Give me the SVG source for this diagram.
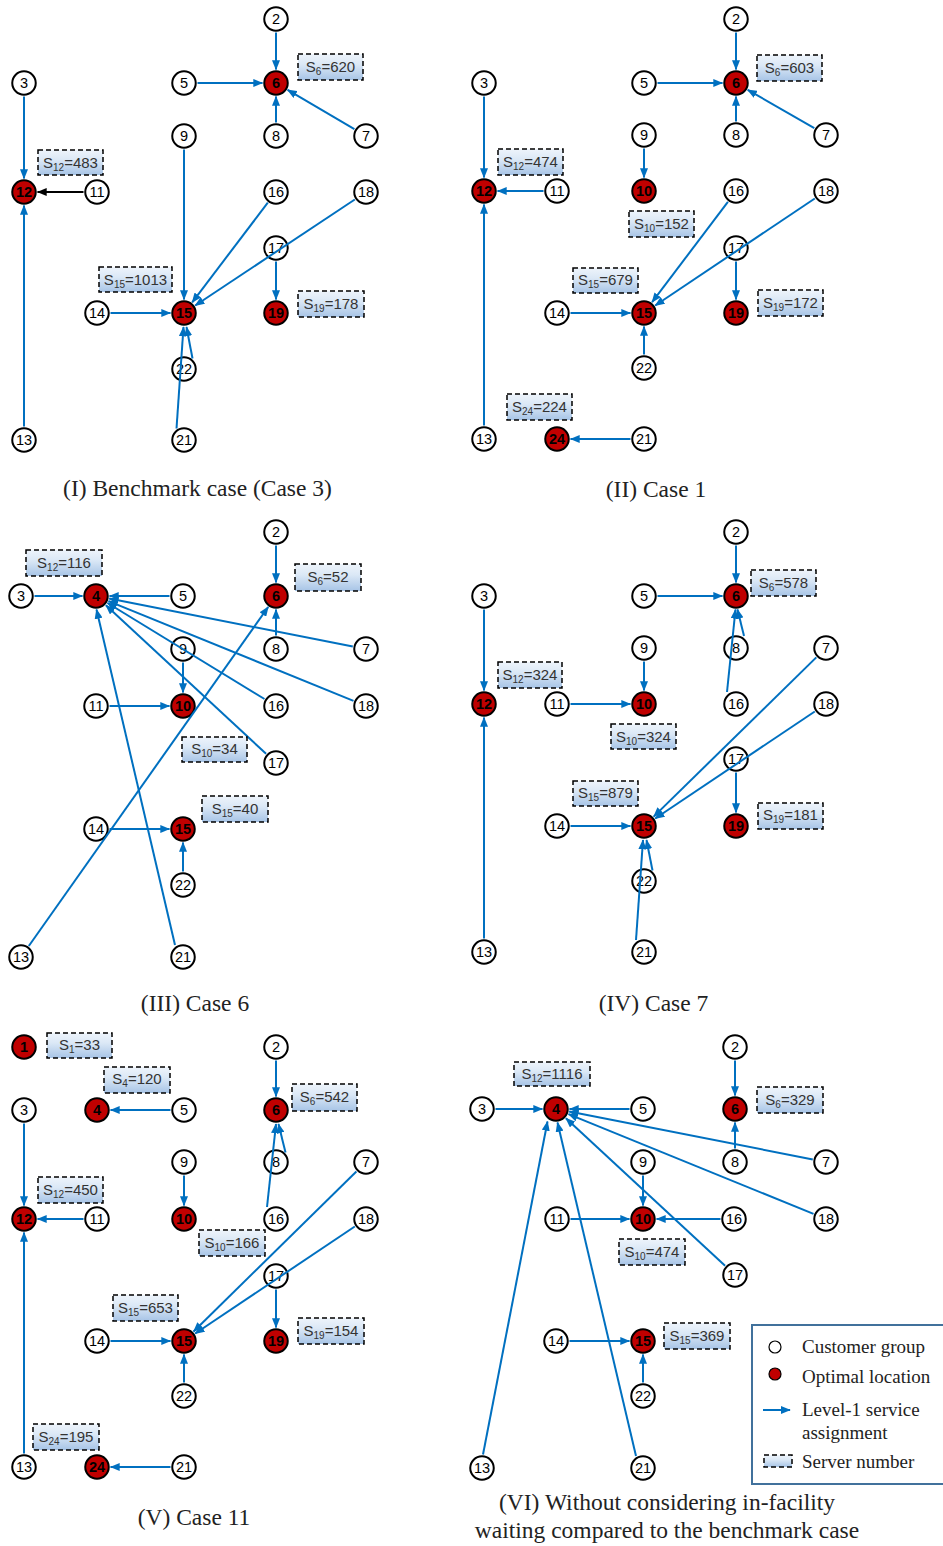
<svg xmlns="http://www.w3.org/2000/svg" width="943" height="1546" viewBox="0 0 943 1546">
<style>
.c{fill:#fff;stroke:#000;stroke-width:2}
.r{fill:#c00000;stroke:#000;stroke-width:2}
.t{font-family:"Liberation Sans",Arial,sans-serif;font-size:14.5px;text-anchor:middle;fill:#000}
.b{font-weight:bold}
.sb rect{fill:url(#g);stroke:#000;stroke-width:1.5;stroke-dasharray:5 3}
.st{font-family:"Liberation Sans",Arial,sans-serif;font-size:15px;text-anchor:middle;fill:#333}
.sub{font-size:10px}
.e line{stroke:#0070c0;stroke-width:2;marker-end:url(#ah)}
.e line.k{stroke:#000;marker-end:url(#ahk)}
.cap{font-family:"Liberation Serif","Times New Roman",serif;font-size:23.5px;text-anchor:middle;fill:#222}
.lg{font-family:"Liberation Serif","Times New Roman",serif;font-size:19px;fill:#222}
</style>
<defs>
<linearGradient id="g" x1="0" y1="0" x2="0" y2="1">
<stop offset="0" stop-color="#eef4fb"/>
<stop offset="0.4" stop-color="#dbe8f6"/>
<stop offset="1" stop-color="#a7c4e6"/>
</linearGradient>
<marker id="ah" viewBox="0 0 10 8" refX="9.2" refY="4" markerWidth="10" markerHeight="8" markerUnits="userSpaceOnUse" orient="auto">
<path d="M0,0 L10,4 L0,8 z" fill="#0070c0"/>
</marker>
<marker id="ahk" viewBox="0 0 10 8" refX="9.2" refY="4" markerWidth="10" markerHeight="8" markerUnits="userSpaceOnUse" orient="auto">
<path d="M0,0 L10,4 L0,8 z" fill="#000"/>
</marker>
</defs>
<rect width="943" height="1546" fill="#fff"/>

<!-- Panel I nodes -->
<g id="p1-n2"><circle class="c" cx="276" cy="19" r="11.75"/><text class="t" x="276" y="24">2</text></g>
<g id="p1-n6"><circle class="r" cx="276" cy="83" r="11.75"/><text class="t b" x="276" y="88">6</text></g>
<g id="p1-n5"><circle class="c" cx="184" cy="83" r="11.75"/><text class="t" x="184" y="88">5</text></g>
<g id="p1-n3"><circle class="c" cx="24" cy="83" r="11.75"/><text class="t" x="24" y="88">3</text></g>
<g id="p1-n8"><circle class="c" cx="276" cy="136" r="11.75"/><text class="t" x="276" y="141">8</text></g>
<g id="p1-n7"><circle class="c" cx="366" cy="136" r="11.75"/><text class="t" x="366" y="141">7</text></g>
<g id="p1-n9"><circle class="c" cx="184" cy="136" r="11.75"/><text class="t" x="184" y="141">9</text></g>
<g id="p1-n12"><circle class="r" cx="24" cy="192" r="11.75"/><text class="t b" x="24" y="197">12</text></g>
<g id="p1-n11"><circle class="c" cx="97" cy="192" r="11.75"/><text class="t" x="97" y="197">11</text></g>
<g id="p1-n16"><circle class="c" cx="276" cy="192" r="11.75"/><text class="t" x="276" y="197">16</text></g>
<g id="p1-n18"><circle class="c" cx="366" cy="192" r="11.75"/><text class="t" x="366" y="197">18</text></g>
<g id="p1-n17"><circle class="c" cx="276" cy="248" r="11.75"/><text class="t" x="276" y="253">17</text></g>
<g id="p1-n14"><circle class="c" cx="97" cy="313" r="11.75"/><text class="t" x="97" y="318">14</text></g>
<g id="p1-n15"><circle class="r" cx="184" cy="313" r="11.75"/><text class="t b" x="184" y="318">15</text></g>
<g id="p1-n19"><circle class="r" cx="276" cy="313" r="11.75"/><text class="t b" x="276" y="318">19</text></g>
<g id="p1-n22"><circle class="c" cx="184" cy="369" r="11.75"/><text class="t" x="184" y="374">22</text></g>
<g id="p1-n13"><circle class="c" cx="24" cy="440" r="11.75"/><text class="t" x="24" y="445">13</text></g>
<g id="p1-n21"><circle class="c" cx="184" cy="440" r="11.75"/><text class="t" x="184" y="445">21</text></g>

<!-- Panel II nodes -->
<g id="p2-n2"><circle class="c" cx="736" cy="19" r="11.75"/><text class="t" x="736" y="24">2</text></g>
<g id="p2-n6"><circle class="r" cx="736" cy="83" r="11.75"/><text class="t b" x="736" y="88">6</text></g>
<g id="p2-n5"><circle class="c" cx="644" cy="83" r="11.75"/><text class="t" x="644" y="88">5</text></g>
<g id="p2-n3"><circle class="c" cx="484" cy="83" r="11.75"/><text class="t" x="484" y="88">3</text></g>
<g id="p2-n9"><circle class="c" cx="644" cy="135" r="11.75"/><text class="t" x="644" y="140">9</text></g>
<g id="p2-n8"><circle class="c" cx="736" cy="135" r="11.75"/><text class="t" x="736" y="140">8</text></g>
<g id="p2-n7"><circle class="c" cx="826" cy="135" r="11.75"/><text class="t" x="826" y="140">7</text></g>
<g id="p2-n12"><circle class="r" cx="484" cy="191" r="11.75"/><text class="t b" x="484" y="196">12</text></g>
<g id="p2-n11"><circle class="c" cx="557" cy="191" r="11.75"/><text class="t" x="557" y="196">11</text></g>
<g id="p2-n10"><circle class="r" cx="644" cy="191" r="11.75"/><text class="t b" x="644" y="196">10</text></g>
<g id="p2-n16"><circle class="c" cx="736" cy="191" r="11.75"/><text class="t" x="736" y="196">16</text></g>
<g id="p2-n18"><circle class="c" cx="826" cy="191" r="11.75"/><text class="t" x="826" y="196">18</text></g>
<g id="p2-n17"><circle class="c" cx="736" cy="248" r="11.75"/><text class="t" x="736" y="253">17</text></g>
<g id="p2-n14"><circle class="c" cx="557" cy="313" r="11.75"/><text class="t" x="557" y="318">14</text></g>
<g id="p2-n15"><circle class="r" cx="644" cy="313" r="11.75"/><text class="t b" x="644" y="318">15</text></g>
<g id="p2-n19"><circle class="r" cx="736" cy="313" r="11.75"/><text class="t b" x="736" y="318">19</text></g>
<g id="p2-n22"><circle class="c" cx="644" cy="368" r="11.75"/><text class="t" x="644" y="373">22</text></g>
<g id="p2-n13"><circle class="c" cx="484" cy="439" r="11.75"/><text class="t" x="484" y="444">13</text></g>
<g id="p2-n24"><circle class="r" cx="557" cy="439" r="11.75"/><text class="t b" x="557" y="444">24</text></g>
<g id="p2-n21"><circle class="c" cx="644" cy="439" r="11.75"/><text class="t" x="644" y="444">21</text></g>

<!-- Panel III nodes -->
<g id="p3-n2"><circle class="c" cx="276" cy="532" r="11.75"/><text class="t" x="276" y="537">2</text></g>
<g id="p3-n6"><circle class="r" cx="276" cy="596" r="11.75"/><text class="t b" x="276" y="601">6</text></g>
<g id="p3-n4"><circle class="r" cx="96" cy="596" r="11.75"/><text class="t b" x="96" y="601">4</text></g>
<g id="p3-n3"><circle class="c" cx="21" cy="596" r="11.75"/><text class="t" x="21" y="601">3</text></g>
<g id="p3-n5"><circle class="c" cx="183" cy="596" r="11.75"/><text class="t" x="183" y="601">5</text></g>
<g id="p3-n8"><circle class="c" cx="276" cy="649" r="11.75"/><text class="t" x="276" y="654">8</text></g>
<g id="p3-n7"><circle class="c" cx="366" cy="649" r="11.75"/><text class="t" x="366" y="654">7</text></g>
<g id="p3-n9"><circle class="c" cx="183" cy="649" r="11.75"/><text class="t" x="183" y="654">9</text></g>
<g id="p3-n10"><circle class="r" cx="183" cy="706" r="11.75"/><text class="t b" x="183" y="711">10</text></g>
<g id="p3-n11"><circle class="c" cx="96" cy="706" r="11.75"/><text class="t" x="96" y="711">11</text></g>
<g id="p3-n16"><circle class="c" cx="276" cy="706" r="11.75"/><text class="t" x="276" y="711">16</text></g>
<g id="p3-n18"><circle class="c" cx="366" cy="706" r="11.75"/><text class="t" x="366" y="711">18</text></g>
<g id="p3-n17"><circle class="c" cx="276" cy="763" r="11.75"/><text class="t" x="276" y="768">17</text></g>
<g id="p3-n14"><circle class="c" cx="96" cy="829" r="11.75"/><text class="t" x="96" y="834">14</text></g>
<g id="p3-n15"><circle class="r" cx="183" cy="829" r="11.75"/><text class="t b" x="183" y="834">15</text></g>
<g id="p3-n22"><circle class="c" cx="183" cy="885" r="11.75"/><text class="t" x="183" y="890">22</text></g>
<g id="p3-n13"><circle class="c" cx="21" cy="957" r="11.75"/><text class="t" x="21" y="962">13</text></g>
<g id="p3-n21"><circle class="c" cx="183" cy="957" r="11.75"/><text class="t" x="183" y="962">21</text></g>

<!-- Panel IV nodes -->
<g id="p4-n2"><circle class="c" cx="736" cy="532" r="11.75"/><text class="t" x="736" y="537">2</text></g>
<g id="p4-n6"><circle class="r" cx="736" cy="596" r="11.75"/><text class="t b" x="736" y="601">6</text></g>
<g id="p4-n5"><circle class="c" cx="644" cy="596" r="11.75"/><text class="t" x="644" y="601">5</text></g>
<g id="p4-n3"><circle class="c" cx="484" cy="596" r="11.75"/><text class="t" x="484" y="601">3</text></g>
<g id="p4-n9"><circle class="c" cx="644" cy="648" r="11.75"/><text class="t" x="644" y="653">9</text></g>
<g id="p4-n8"><circle class="c" cx="736" cy="648" r="11.75"/><text class="t" x="736" y="653">8</text></g>
<g id="p4-n7"><circle class="c" cx="826" cy="648" r="11.75"/><text class="t" x="826" y="653">7</text></g>
<g id="p4-n12"><circle class="r" cx="484" cy="704" r="11.75"/><text class="t b" x="484" y="709">12</text></g>
<g id="p4-n11"><circle class="c" cx="557" cy="704" r="11.75"/><text class="t" x="557" y="709">11</text></g>
<g id="p4-n10"><circle class="r" cx="644" cy="704" r="11.75"/><text class="t b" x="644" y="709">10</text></g>
<g id="p4-n16"><circle class="c" cx="736" cy="704" r="11.75"/><text class="t" x="736" y="709">16</text></g>
<g id="p4-n18"><circle class="c" cx="826" cy="704" r="11.75"/><text class="t" x="826" y="709">18</text></g>
<g id="p4-n17"><circle class="c" cx="736" cy="759" r="11.75"/><text class="t" x="736" y="764">17</text></g>
<g id="p4-n14"><circle class="c" cx="557" cy="826" r="11.75"/><text class="t" x="557" y="831">14</text></g>
<g id="p4-n15"><circle class="r" cx="644" cy="826" r="11.75"/><text class="t b" x="644" y="831">15</text></g>
<g id="p4-n19"><circle class="r" cx="736" cy="826" r="11.75"/><text class="t b" x="736" y="831">19</text></g>
<g id="p4-n22"><circle class="c" cx="644" cy="881" r="11.75"/><text class="t" x="644" y="886">22</text></g>
<g id="p4-n13"><circle class="c" cx="484" cy="952" r="11.75"/><text class="t" x="484" y="957">13</text></g>
<g id="p4-n21"><circle class="c" cx="644" cy="952" r="11.75"/><text class="t" x="644" y="957">21</text></g>

<!-- Panel V nodes -->
<g id="p5-n1"><circle class="r" cx="24" cy="1047" r="11.75"/><text class="t b" x="24" y="1052">1</text></g>
<g id="p5-n2"><circle class="c" cx="276" cy="1047" r="11.75"/><text class="t" x="276" y="1052">2</text></g>
<g id="p5-n3"><circle class="c" cx="24" cy="1110" r="11.75"/><text class="t" x="24" y="1115">3</text></g>
<g id="p5-n4"><circle class="r" cx="97" cy="1110" r="11.75"/><text class="t b" x="97" y="1115">4</text></g>
<g id="p5-n5"><circle class="c" cx="184" cy="1110" r="11.75"/><text class="t" x="184" y="1115">5</text></g>
<g id="p5-n6"><circle class="r" cx="276" cy="1110" r="11.75"/><text class="t b" x="276" y="1115">6</text></g>
<g id="p5-n9"><circle class="c" cx="184" cy="1162" r="11.75"/><text class="t" x="184" y="1167">9</text></g>
<g id="p5-n8"><circle class="c" cx="276" cy="1162" r="11.75"/><text class="t" x="276" y="1167">8</text></g>
<g id="p5-n7"><circle class="c" cx="366" cy="1162" r="11.75"/><text class="t" x="366" y="1167">7</text></g>
<g id="p5-n12"><circle class="r" cx="24" cy="1219" r="11.75"/><text class="t b" x="24" y="1224">12</text></g>
<g id="p5-n11"><circle class="c" cx="97" cy="1219" r="11.75"/><text class="t" x="97" y="1224">11</text></g>
<g id="p5-n10"><circle class="r" cx="184" cy="1219" r="11.75"/><text class="t b" x="184" y="1224">10</text></g>
<g id="p5-n16"><circle class="c" cx="276" cy="1219" r="11.75"/><text class="t" x="276" y="1224">16</text></g>
<g id="p5-n18"><circle class="c" cx="366" cy="1219" r="11.75"/><text class="t" x="366" y="1224">18</text></g>
<g id="p5-n17"><circle class="c" cx="276" cy="1276" r="11.75"/><text class="t" x="276" y="1281">17</text></g>
<g id="p5-n14"><circle class="c" cx="97" cy="1341" r="11.75"/><text class="t" x="97" y="1346">14</text></g>
<g id="p5-n15"><circle class="r" cx="184" cy="1341" r="11.75"/><text class="t b" x="184" y="1346">15</text></g>
<g id="p5-n19"><circle class="r" cx="276" cy="1341" r="11.75"/><text class="t b" x="276" y="1346">19</text></g>
<g id="p5-n22"><circle class="c" cx="184" cy="1396" r="11.75"/><text class="t" x="184" y="1401">22</text></g>
<g id="p5-n13"><circle class="c" cx="24" cy="1467" r="11.75"/><text class="t" x="24" y="1472">13</text></g>
<g id="p5-n24"><circle class="r" cx="97" cy="1467" r="11.75"/><text class="t b" x="97" y="1472">24</text></g>
<g id="p5-n21"><circle class="c" cx="184" cy="1467" r="11.75"/><text class="t" x="184" y="1472">21</text></g>

<!-- Panel VI nodes -->
<g id="p6-n2"><circle class="c" cx="735" cy="1047" r="11.75"/><text class="t" x="735" y="1052">2</text></g>
<g id="p6-n6"><circle class="r" cx="735" cy="1109" r="11.75"/><text class="t b" x="735" y="1114">6</text></g>
<g id="p6-n4"><circle class="r" cx="556" cy="1109" r="11.75"/><text class="t b" x="556" y="1114">4</text></g>
<g id="p6-n3"><circle class="c" cx="482" cy="1109" r="11.75"/><text class="t" x="482" y="1114">3</text></g>
<g id="p6-n5"><circle class="c" cx="643" cy="1109" r="11.75"/><text class="t" x="643" y="1114">5</text></g>
<g id="p6-n9"><circle class="c" cx="643" cy="1162" r="11.75"/><text class="t" x="643" y="1167">9</text></g>
<g id="p6-n8"><circle class="c" cx="735" cy="1162" r="11.75"/><text class="t" x="735" y="1167">8</text></g>
<g id="p6-n7"><circle class="c" cx="826" cy="1162" r="11.75"/><text class="t" x="826" y="1167">7</text></g>
<g id="p6-n11"><circle class="c" cx="557" cy="1219" r="11.75"/><text class="t" x="557" y="1224">11</text></g>
<g id="p6-n10"><circle class="r" cx="643" cy="1219" r="11.75"/><text class="t b" x="643" y="1224">10</text></g>
<g id="p6-n16"><circle class="c" cx="734" cy="1219" r="11.75"/><text class="t" x="734" y="1224">16</text></g>
<g id="p6-n18"><circle class="c" cx="826" cy="1219" r="11.75"/><text class="t" x="826" y="1224">18</text></g>
<g id="p6-n17"><circle class="c" cx="735" cy="1275" r="11.75"/><text class="t" x="735" y="1280">17</text></g>
<g id="p6-n14"><circle class="c" cx="556" cy="1341" r="11.75"/><text class="t" x="556" y="1346">14</text></g>
<g id="p6-n15"><circle class="r" cx="643" cy="1341" r="11.75"/><text class="t b" x="643" y="1346">15</text></g>
<g id="p6-n22"><circle class="c" cx="643" cy="1396" r="11.75"/><text class="t" x="643" y="1401">22</text></g>
<g id="p6-n13"><circle class="c" cx="482" cy="1468" r="11.75"/><text class="t" x="482" y="1473">13</text></g>
<g id="p6-n21"><circle class="c" cx="643" cy="1468" r="11.75"/><text class="t" x="643" y="1473">21</text></g>

<!-- Connectors -->
<g id="connectors" class="e">
<!-- I -->
<line x1="276" y1="32.5" x2="276" y2="69.5"/>
<line x1="197.5" y1="83" x2="262.5" y2="83"/>
<line x1="276" y1="122.5" x2="276" y2="96.5"/>
<line x1="354.4" y1="129.2" x2="287.6" y2="89.9"/>
<line x1="24" y1="96.5" x2="24" y2="178.5"/>
<line class="k" x1="83.5" y1="192" x2="37.5" y2="192"/>
<line x1="24" y1="426.5" x2="24" y2="205.5"/>
<line x1="184" y1="149.5" x2="184" y2="299.5"/>
<line x1="267.8" y1="202.7" x2="192.2" y2="302.3"/>
<line x1="354.8" y1="199.5" x2="195.2" y2="305.5"/>
<line x1="276" y1="261.5" x2="276" y2="299.5"/>
<line x1="110.5" y1="313" x2="170.5" y2="313"/>
<line x1="192.5" y1="358.5" x2="186.5" y2="327"/>
<line x1="176.5" y1="428.5" x2="183.5" y2="327"/>
<!-- II -->
<line x1="736" y1="32.5" x2="736" y2="69.5"/>
<line x1="657.5" y1="83" x2="722.5" y2="83"/>
<line x1="736" y1="121.5" x2="736" y2="96.5"/>
<line x1="814.3" y1="128.2" x2="747.7" y2="89.8"/>
<line x1="484" y1="96.5" x2="484" y2="177.5"/>
<line x1="543.5" y1="191" x2="497.5" y2="191"/>
<line x1="484" y1="425.5" x2="484" y2="204.5"/>
<line x1="644" y1="148.5" x2="644" y2="177.5"/>
<line x1="727.9" y1="201.8" x2="652.1" y2="302.2"/>
<line x1="814.8" y1="198.5" x2="655.2" y2="305.5"/>
<line x1="736" y1="261.5" x2="736" y2="299.5"/>
<line x1="570.5" y1="313" x2="630.5" y2="313"/>
<line x1="644" y1="354.5" x2="644" y2="326.5"/>
<line x1="630.5" y1="439" x2="570.5" y2="439"/>
<!-- III -->
<line x1="34.5" y1="596" x2="82.5" y2="596"/>
<line x1="169.5" y1="596" x2="109.5" y2="596"/>
<line x1="352.8" y1="646.4" x2="109.2" y2="598.6"/>
<line x1="353.5" y1="700.9" x2="108.5" y2="601.1"/>
<line x1="264.5" y1="699" x2="107.5" y2="603"/>
<line x1="266.1" y1="753.8" x2="105.9" y2="605.2"/>
<line x1="175" y1="945" x2="96.5" y2="609.5"/>
<line x1="276" y1="545.5" x2="276" y2="582.5"/>
<line x1="276" y1="635.5" x2="276" y2="609.5"/>
<line x1="28.8" y1="946" x2="268.2" y2="607"/>
<line x1="183" y1="662.5" x2="183" y2="692.5"/>
<line x1="109.5" y1="706" x2="169.5" y2="706"/>
<line x1="109.5" y1="829" x2="169.5" y2="829"/>
<line x1="183" y1="871.5" x2="183" y2="842.5"/>
<!-- IV -->
<line x1="736" y1="545.5" x2="736" y2="582.5"/>
<line x1="657.5" y1="596" x2="722.5" y2="596"/>
<line x1="744" y1="636" x2="737.5" y2="609.5"/>
<line x1="727" y1="692" x2="735.5" y2="609.5"/>
<line x1="484" y1="609.5" x2="484" y2="690.5"/>
<line x1="484" y1="938.5" x2="484" y2="717.5"/>
<line x1="644" y1="661.5" x2="644" y2="690.5"/>
<line x1="570.5" y1="704" x2="630.5" y2="704"/>
<line x1="816.3" y1="657.4" x2="653.7" y2="816.6"/>
<line x1="814.8" y1="711.5" x2="655.2" y2="818.5"/>
<line x1="736" y1="772.5" x2="736" y2="812.5"/>
<line x1="570.5" y1="826" x2="630.5" y2="826"/>
<line x1="652.5" y1="870.5" x2="646.5" y2="840"/>
<line x1="636" y1="940" x2="643" y2="840"/>
<!-- V -->
<line x1="170.5" y1="1110" x2="110.5" y2="1110"/>
<line x1="276" y1="1060.5" x2="276" y2="1096.5"/>
<line x1="285.5" y1="1152.5" x2="278.5" y2="1124"/>
<line x1="267" y1="1207" x2="276" y2="1124"/>
<line x1="184" y1="1175.5" x2="184" y2="1205.5"/>
<line x1="24" y1="1123.5" x2="24" y2="1205.5"/>
<line x1="83.5" y1="1219" x2="37.5" y2="1219"/>
<line x1="24" y1="1453.5" x2="24" y2="1232.5"/>
<line x1="356.4" y1="1171.5" x2="193.6" y2="1331.5"/>
<line x1="354.8" y1="1226.5" x2="195.2" y2="1333.5"/>
<line x1="276" y1="1289.5" x2="276" y2="1327.5"/>
<line x1="110.5" y1="1341" x2="170.5" y2="1341"/>
<line x1="184" y1="1382.5" x2="184" y2="1354.5"/>
<line x1="170.5" y1="1467" x2="110.5" y2="1467"/>
<!-- VI -->
<line x1="495.5" y1="1109" x2="542.5" y2="1109"/>
<line x1="629.5" y1="1109" x2="569.5" y2="1109"/>
<line x1="812.8" y1="1159.4" x2="569.2" y2="1111.6"/>
<line x1="813.5" y1="1213.9" x2="568.5" y2="1114.1"/>
<line x1="725.1" y1="1265.8" x2="565.9" y2="1118.2"/>
<line x1="483" y1="1454.5" x2="547.5" y2="1121.5"/>
<line x1="636" y1="1456" x2="557.5" y2="1122.5"/>
<line x1="735" y1="1060.5" x2="735" y2="1095.5"/>
<line x1="735" y1="1148.5" x2="735" y2="1122.5"/>
<line x1="643" y1="1175.5" x2="643" y2="1205.5"/>
<line x1="570.5" y1="1219" x2="629.5" y2="1219"/>
<line x1="720.5" y1="1219" x2="656.5" y2="1219"/>
<line x1="569.5" y1="1341" x2="629.5" y2="1341"/>
<line x1="643" y1="1382.5" x2="643" y2="1354.5"/>
</g>

<!-- Server number boxes -->
<g id="servers" class="sb">
<rect x="298" y="54" width="65" height="26"/><text class="st" x="330.5" y="72">S<tspan class="sub" dy="3">6</tspan><tspan dy="-3">=620</tspan></text>
<rect x="38" y="150" width="65" height="25"/><text class="st" x="70.5" y="167.5">S<tspan class="sub" dy="3">12</tspan><tspan dy="-3">=483</tspan></text>
<rect x="99" y="267" width="73" height="25"/><text class="st" x="135.5" y="284.5">S<tspan class="sub" dy="3">15</tspan><tspan dy="-3">=1013</tspan></text>
<rect x="298" y="291" width="66" height="26"/><text class="st" x="331" y="308.5">S<tspan class="sub" dy="3">19</tspan><tspan dy="-3">=178</tspan></text>

<rect x="757" y="55" width="65" height="26"/><text class="st" x="789.5" y="73">S<tspan class="sub" dy="3">6</tspan><tspan dy="-3">=603</tspan></text>
<rect x="498" y="149" width="65" height="26"/><text class="st" x="530.5" y="166.5">S<tspan class="sub" dy="3">12</tspan><tspan dy="-3">=474</tspan></text>
<rect x="629" y="211" width="65" height="26"/><text class="st" x="661.5" y="228.5">S<tspan class="sub" dy="3">10</tspan><tspan dy="-3">=152</tspan></text>
<rect x="573" y="268" width="65" height="25"/><text class="st" x="605.5" y="285">S<tspan class="sub" dy="3">15</tspan><tspan dy="-3">=679</tspan></text>
<rect x="758" y="290" width="65" height="26"/><text class="st" x="790.5" y="307.5">S<tspan class="sub" dy="3">19</tspan><tspan dy="-3">=172</tspan></text>
<rect x="507" y="394" width="65" height="26"/><text class="st" x="539.5" y="411.5">S<tspan class="sub" dy="3">24</tspan><tspan dy="-3">=224</tspan></text>

<rect x="26" y="550" width="76" height="26"/><text class="st" x="64" y="567.5">S<tspan class="sub" dy="3">12</tspan><tspan dy="-3">=116</tspan></text>
<rect x="295" y="564" width="66" height="27"/><text class="st" x="328" y="582">S<tspan class="sub" dy="3">6</tspan><tspan dy="-3">=52</tspan></text>
<rect x="182" y="737" width="65" height="25"/><text class="st" x="214.5" y="754">S<tspan class="sub" dy="3">10</tspan><tspan dy="-3">=34</tspan></text>
<rect x="202" y="796" width="66" height="26"/><text class="st" x="235" y="813.5">S<tspan class="sub" dy="3">15</tspan><tspan dy="-3">=40</tspan></text>

<rect x="751" y="570" width="65" height="26"/><text class="st" x="783.5" y="587.5">S<tspan class="sub" dy="3">6</tspan><tspan dy="-3">=578</tspan></text>
<rect x="498" y="662" width="64" height="26"/><text class="st" x="530" y="679.5">S<tspan class="sub" dy="3">12</tspan><tspan dy="-3">=324</tspan></text>
<rect x="611" y="724" width="65" height="25"/><text class="st" x="643.5" y="741.5">S<tspan class="sub" dy="3">10</tspan><tspan dy="-3">=324</tspan></text>
<rect x="573" y="781" width="65" height="25"/><text class="st" x="605.5" y="798">S<tspan class="sub" dy="3">15</tspan><tspan dy="-3">=879</tspan></text>
<rect x="758" y="803" width="65" height="26"/><text class="st" x="790.5" y="820">S<tspan class="sub" dy="3">19</tspan><tspan dy="-3">=181</tspan></text>

<rect x="47" y="1033" width="65" height="25"/><text class="st" x="79.5" y="1050">S<tspan class="sub" dy="3">1</tspan><tspan dy="-3">=33</tspan></text>
<rect x="104" y="1067" width="66" height="26"/><text class="st" x="137" y="1084">S<tspan class="sub" dy="3">4</tspan><tspan dy="-3">=120</tspan></text>
<rect x="292" y="1084" width="65" height="27"/><text class="st" x="324.5" y="1102">S<tspan class="sub" dy="3">6</tspan><tspan dy="-3">=542</tspan></text>
<rect x="38" y="1177" width="65" height="26"/><text class="st" x="70.5" y="1194.5">S<tspan class="sub" dy="3">12</tspan><tspan dy="-3">=450</tspan></text>
<rect x="199" y="1230" width="66" height="26"/><text class="st" x="232" y="1247.5">S<tspan class="sub" dy="3">10</tspan><tspan dy="-3">=166</tspan></text>
<rect x="113" y="1295" width="65" height="26"/><text class="st" x="145.5" y="1312.5">S<tspan class="sub" dy="3">15</tspan><tspan dy="-3">=653</tspan></text>
<rect x="298" y="1318" width="66" height="26"/><text class="st" x="331" y="1335.5">S<tspan class="sub" dy="3">19</tspan><tspan dy="-3">=154</tspan></text>
<rect x="33" y="1424" width="66" height="26"/><text class="st" x="66" y="1441.5">S<tspan class="sub" dy="3">24</tspan><tspan dy="-3">=195</tspan></text>

<rect x="514" y="1062" width="76" height="24"/><text class="st" x="552" y="1078.5">S<tspan class="sub" dy="3">12</tspan><tspan dy="-3">=1116</tspan></text>
<rect x="757" y="1087" width="66" height="26"/><text class="st" x="790" y="1104.5">S<tspan class="sub" dy="3">6</tspan><tspan dy="-3">=329</tspan></text>
<rect x="619" y="1239" width="66" height="26"/><text class="st" x="652" y="1256.5">S<tspan class="sub" dy="3">10</tspan><tspan dy="-3">=474</tspan></text>
<rect x="664" y="1323" width="66" height="26"/><text class="st" x="697" y="1340.5">S<tspan class="sub" dy="3">15</tspan><tspan dy="-3">=369</tspan></text>
</g>

<!-- Captions -->
<g id="captions">
<text class="cap" x="197.5" y="496">(I) Benchmark case (Case 3)</text>
<text class="cap" x="656" y="497">(II) Case 1</text>
<text class="cap" x="195" y="1011">(III) Case 6</text>
<text class="cap" x="653.5" y="1011">(IV) Case 7</text>
<text class="cap" x="194" y="1525">(V) Case 11</text>
<text class="cap" x="667" y="1510">(VI) Without considering in-facility</text>
<text class="cap" x="667" y="1538">waiting compared to the benchmark case</text>
</g>

<!-- Legend -->
<g id="legend">
<rect x="752" y="1325" width="200" height="159" fill="#fff" stroke="#41719c" stroke-width="2"/>
<circle cx="775" cy="1347" r="6" fill="#fff" stroke="#000" stroke-width="1.2"/>
<text class="lg" x="802" y="1353">Customer group</text>
<circle cx="775" cy="1374" r="6" fill="#c00000" stroke="#000" stroke-width="1.2"/>
<text class="lg" x="802" y="1383">Optimal location</text>
<g class="e"><line x1="763" y1="1410" x2="790" y2="1410"/></g>
<text class="lg" x="802" y="1416">Level-1 service</text>
<text class="lg" x="802" y="1439">assignment</text>
<g class="sb"><rect x="764" y="1455" width="28" height="12"/></g>
<text class="lg" x="802" y="1468">Server number</text>
</g>
</svg>
